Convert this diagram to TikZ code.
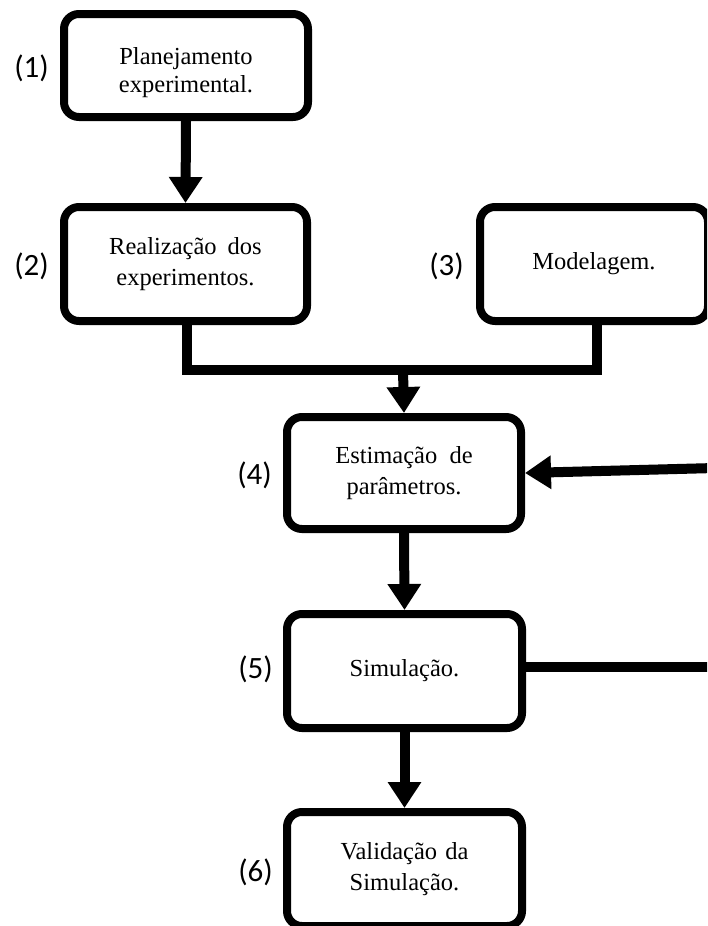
\documentclass[tikz,border=0pt]{standalone}
\usepackage{fontspec}
\setmainfont{Liberation Serif}
\newfontfamily\labfont{Carlito}
\usetikzlibrary{arrows.meta}
\begin{document}
\begin{tikzpicture}[x=1pt,y=-1pt,
  box/.style={draw, line width=8pt, rounded corners=15pt, align=center,
    font=\fontsize{24.5}{31}\selectfont, inner sep=0pt},
  arr/.style={line width=10pt, -{Triangle[length=26pt,width=32pt]}},
  conn/.style={line width=10pt},
  lab/.style={font=\labfont\fontsize{31}{33}\selectfont, inner sep=0pt, anchor=east}]
\useasboundingbox (0,0) rectangle (707,926);
\clip (0,0) rectangle (707,926);
\fill[white] (0,0) rectangle (707,926);
% boxes
\node[box, minimum width=244pt, minimum height=103pt] (b1) at (186,65.5) {\rule{0pt}{32pt}Planejamento\\[-3pt]experimental.};
\node[box, minimum width=243pt, minimum height=114pt] (b2) at (185.5,264) {Realização\hspace{0.45em}dos\\experimentos.};
\node[box, minimum width=228pt, minimum height=114pt] (b3) at (594,264) {Modelagem.};
\node[box, minimum width=234pt, minimum height=112pt] (b4) at (404,473) {Estimação\hspace{0.5em}de\\parâmetros.};
\node[box, minimum width=235pt, minimum height=114pt] (b5) at (404.5,671) {Simulação.};
\node[box, minimum width=235pt, minimum height=114pt] (b6) at (404.5,869) {Validação\hspace{0.33em}da\\Simulação.};
% labels
\node[lab] (l1) at ([xshift=-11pt,yshift=-3pt]b1.west) {(1)};
\node[lab] (l2) at ([xshift=-11pt,yshift=-2pt]b2.west) {(2)};
\node[lab] (l3) at ([xshift=-12pt,yshift=-2pt]b3.west) {(3)};
\node[lab] (l4) at ([xshift=-11pt,yshift=-2pt]b4.west) {(4)};
\node[lab] (l5) at ([xshift=-10pt,yshift=2pt]b5.west) {(5)};
\node[lab] (l6) at ([xshift=-10pt,yshift=-3pt]b6.west) {(6)};
% connectors
\coordinate (j2) at (187,370);
\coordinate (j3) at (597,370);
\coordinate (jm) at (403,370);
\coordinate (f4) at (715,468);
\coordinate (f5) at (715,667);
\draw[arr] (b1.south) -- (b2.north);
\draw[conn, line join=miter] (b2.south -| j2) -- (j2) -- (j3) -- (b3.south -| j3);
\draw[arr] (jm) -- (b4.north);
\draw[arr] (b4.south) -- (b5.north);
\draw[arr] (b5.south) -- (b6.north);
\draw[conn] (b5.east |- f5) -- (f5);
\draw[arr] (f4) -- (b4.east);
\end{tikzpicture}
\end{document}
